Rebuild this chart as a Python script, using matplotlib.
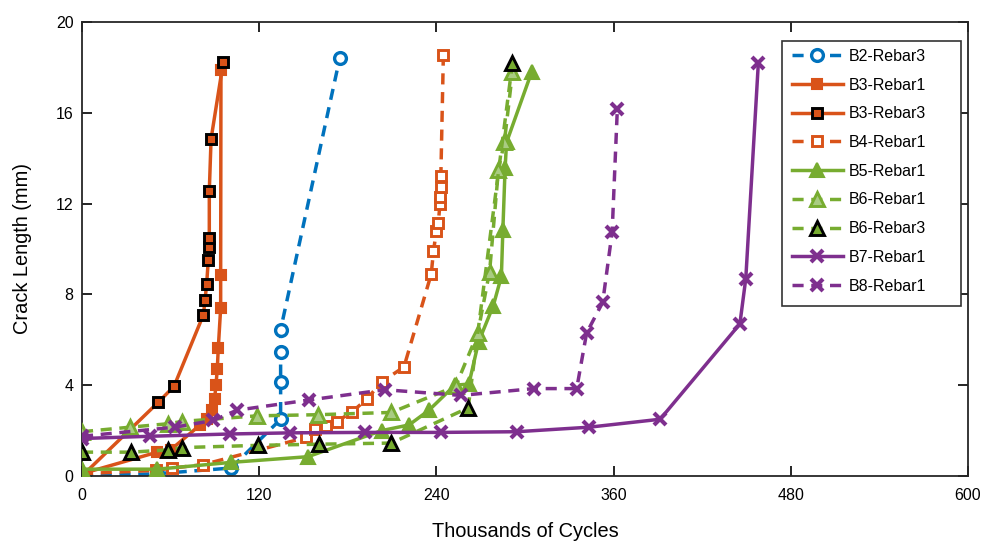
import matplotlib
matplotlib.use('Agg')
import matplotlib.pyplot as plt
from matplotlib.patches import Rectangle

plt.rcParams['font.family'] = ['Liberation Sans', 'DejaVu Sans']

# crack length (mm) against thousands of cycles, one series per rebar
b2_r3_x = [0, 51, 101, 134.5, 134.5, 134.5, 134.5, 174.5]
b2_r3_y = [0, 0.1, 0.35, 2.5, 4.15, 5.45, 6.45, 18.4]

b3_r1_x = [0, 51, 60, 80, 84.4, 88.2, 89.8, 90.7, 91.6, 92.3, 93.9, 93.9, 94.1]
b3_r1_y = [0.1, 1.05, 1.15, 2.25, 2.5, 2.9, 3.4, 4.0, 4.7, 5.65, 7.4, 8.85, 17.9]

b3_r3_x = [0, 51.7, 62.3, 82.2, 83.3, 84.4, 85.5, 86.2, 86.2, 86.2, 87.4, 95.7]
b3_r3_y = [0, 3.25, 3.95, 7.1, 7.75, 8.45, 9.5, 10.1, 10.5, 12.55, 14.85, 18.25]

b4_r1_x = [0, 50, 61, 82, 152, 158, 165, 172.5, 182.5, 193, 203, 218,
           236.5, 238, 240, 241.3, 242.4, 242.4, 243, 243, 244.7]
b4_r1_y = [0.1, 0.25, 0.35, 0.5, 1.7, 2.05, 2.2, 2.4, 2.8, 3.4, 4.15, 4.8,
           8.9, 9.9, 10.8, 11.15, 12.0, 12.3, 12.75, 13.2, 18.55]

b5_r1_x = [0, 51, 101, 153, 203, 221.5, 235, 252.5, 262, 268.5, 278.5, 284, 285, 286.5, 287.5, 304.5]
b5_r1_y = [0.3, 0.3, 0.6, 0.85, 2.0, 2.25, 2.9, 4.0, 4.05, 5.9, 7.5, 8.8, 10.85, 13.55, 14.7, 17.8]

b6_r1_x = [0, 32.5, 58, 67.5, 118.5, 160, 209.5, 253, 268, 276, 282, 286, 291.5]
b6_r1_y = [1.95, 2.15, 2.3, 2.4, 2.65, 2.7, 2.8, 3.95, 6.3, 9.0, 13.5, 14.7, 17.8]

b6_r3_x = [0, 33.5, 58.5, 67.5, 119.5, 160.5, 209.5, 261.5, 291.5]
b6_r3_y = [1.05, 1.05, 1.15, 1.25, 1.35, 1.4, 1.45, 3.0, 18.2]

b7_r1_x = [0, 46, 100, 141, 191.5, 243, 294.5, 343.5, 391.5, 445.5, 449.5, 458]
b7_r1_y = [1.65, 1.75, 1.85, 1.9, 1.92, 1.92, 1.95, 2.15, 2.5, 6.7, 8.7, 18.2]

b8_r1_x = [0, 63, 89, 105, 154, 205, 256.5, 306, 335, 341.7, 352.6, 359, 362.5]
b8_r1_y = [1.75, 2.15, 2.45, 2.9, 3.35, 3.8, 3.55, 3.85, 3.85, 6.3, 7.65, 10.75, 16.15]

blue = '#0072BD'
orange = '#D95319'
green = '#77AC30'
purple = '#7E2F8E'

lw = 2.5
dash = (0, (3.2, 2.2))

fig = plt.figure(figsize=(9.88, 5.42), dpi=100)
ax = fig.add_axes([0.083, 0.1218, 0.8968, 0.8376])

ax.plot(b2_r3_x, b2_r3_y, linestyle=dash, color=blue, lw=lw, marker='o', ms=8.5,
        mfc='white', mec=blue, mew=2.4, label='B2-Rebar3', zorder=2)
ax.plot(b3_r1_x, b3_r1_y, linestyle='-', color=orange, lw=lw, marker='s', ms=7.5,
        mfc=orange, mec=orange, mew=1.5, label='B3-Rebar1', zorder=3)
ax.plot(b3_r3_x, b3_r3_y, linestyle='-', color=orange, lw=lw, marker='s', ms=7.5,
        mfc=orange, mec='black', mew=2.1, label='B3-Rebar3', zorder=4)
ax.plot(b4_r1_x, b4_r1_y, linestyle=dash, color=orange, lw=lw, marker='s', ms=7.5,
        mfc='white', mec=orange, mew=2.1, label='B4-Rebar1', zorder=5)
ax.plot(b5_r1_x, b5_r1_y, linestyle='-', color=green, lw=lw, marker='^', ms=10,
        mfc=green, mec=green, mew=1.5, label='B5-Rebar1', zorder=6)
ax.plot(b6_r1_x, b6_r1_y, linestyle=dash, color=green, lw=lw, marker='^', ms=10,
        mfc='#a9cc82', mec=green, mew=2.1, label='B6-Rebar1', zorder=7)
ax.plot(b6_r3_x, b6_r3_y, linestyle=dash, color=green, lw=lw, marker='^', ms=10,
        mfc=green, mec='black', mew=2.1, label='B6-Rebar3', zorder=8)
ax.plot(b7_r1_x, b7_r1_y, linestyle='-', color=purple, lw=lw, marker='x', ms=8,
        mec=purple, mew=3.0, label='B7-Rebar1', zorder=9)
ax.plot(b8_r1_x, b8_r1_y, linestyle=dash, color=purple, lw=lw, marker='x', ms=8,
        mec=purple, mew=3.0, label='B8-Rebar1', zorder=10)

ax.set_xlim(0, 600)
ax.set_ylim(0, 20)
ax.set_xticks([0, 120, 240, 360, 480, 600])
ax.set_yticks([0, 4, 8, 12, 16, 20])
ax.tick_params(direction='in', length=7, width=1.2, labelsize=11.5,
               top=True, right=True)
ax.tick_params(axis='x', pad=9)
ax.tick_params(axis='y', pad=6)
for s in ax.spines.values():
    s.set_linewidth(1.3)
    s.set_color('#262626')

ax.set_xlabel('Thousands of Cycles', fontsize=14.4, labelpad=13)
ax.set_ylabel('Crack Length (mm)', fontsize=14.4, labelpad=17)

# legend box is wider than its entries, so the frame is drawn separately
ax.add_patch(Rectangle((0.790, 0.374), 0.202, 0.584, transform=ax.transAxes,
                       facecolor='white', edgecolor='#333333', lw=1.2, zorder=20))
leg = ax.legend(loc='upper left', bbox_to_anchor=(0.801, 0.941), borderaxespad=0,
                fontsize=11.5, handlelength=3.2, handletextpad=0.38, labelspacing=0.86,
                frameon=False, borderpad=0)
leg.set_zorder(21)

fig.savefig('out.png', dpi=100)
